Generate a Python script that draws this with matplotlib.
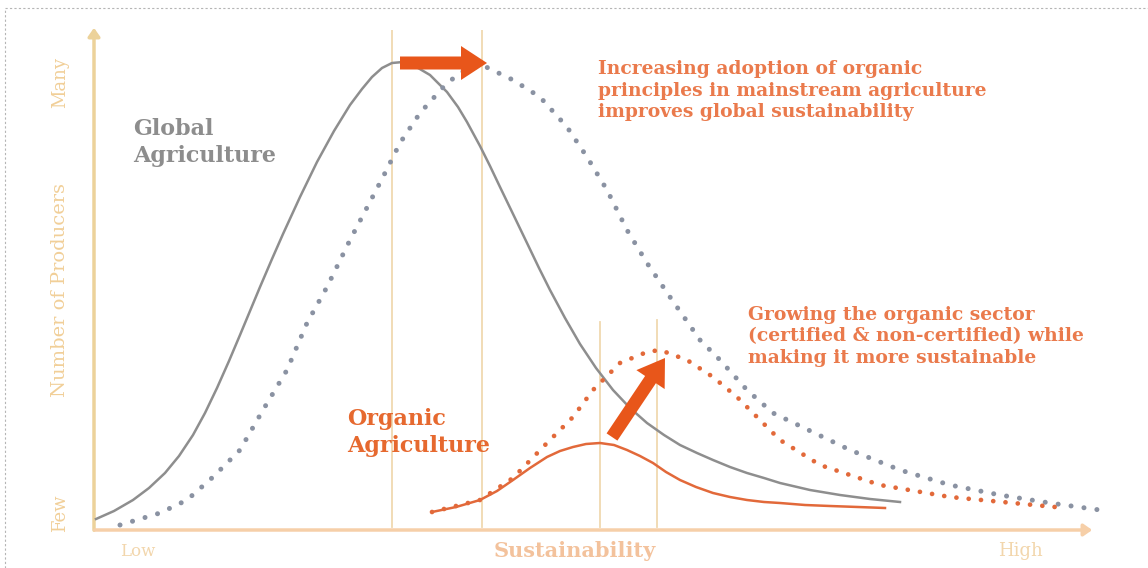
import matplotlib.pyplot as plt
from matplotlib.patches import FancyArrow

# Données (x : durabilité, y : nombre de producteurs)
global_x = [2, 20, 39, 55, 71, 85, 99, 111, 123, 135, 146, 156, 166, 178, 189, 206,
            223, 240, 256, 268, 278, 288, 298, 309, 319, 336, 353, 364, 373, 386,
            396, 406, 420, 433, 445, 456, 471, 486, 502, 519, 536, 553, 570, 586,
            603, 619, 636, 653, 670, 686, 716, 746, 776, 806]
global_y = [11, 19, 30, 42, 57, 74, 95, 117, 142, 169, 195, 219, 243, 271, 296, 333,
            368, 399, 425, 441, 453, 462, 467, 468, 465, 455, 438, 423, 408, 384,
            364, 343, 314, 287, 262, 240, 212, 186, 162, 140, 122, 107, 95, 85,
            77, 70, 63, 57, 52, 47, 40, 35, 31, 28]

global_new_x = [26, 66, 93, 119, 146, 169, 193, 213, 233, 256, 289, 306, 326, 353, 371,
                388, 419, 446, 473, 493, 513, 533, 553, 576, 606, 626, 653, 679, 756,
                806, 856, 906, 956, 1006]
global_new_y = [5, 17, 30, 53, 80, 120, 160, 207, 243, 290, 353, 387, 417, 447, 460,
                465, 450, 433, 403, 373, 340, 300, 267, 233, 190, 170, 140, 117, 80,
                60, 45, 35, 27, 20]

organic_x = [338, 362, 386, 403, 419, 436, 453, 466, 479, 492, 506, 520, 533, 546,
             559, 572, 586, 602, 619, 636, 653, 670, 686, 711, 736, 764, 791]
organic_y = [18, 23, 30, 39, 50, 62, 73, 79, 83, 86, 87, 85, 80, 74,
             67, 58, 50, 43, 37, 33, 30, 28, 27, 25, 24, 23, 22]

organic_new_x = [338, 386, 419, 453, 479, 499, 526, 553, 566, 593, 619, 643, 666, 686,
                 726, 786, 856, 961]
organic_new_y = [18, 30, 52, 87, 113, 140, 167, 178, 180, 170, 153, 133, 110, 90,
                 65, 45, 33, 23]

# pics des courbes (lignes verticales) : x, hauteur
peaks_x = [298, 388, 506, 563]
peaks_top = [503, 503, 208, 210]

orange = '#e8561a'
grey = '#8e8e8e'
grey_dot = '#8a92a2'
org_col = '#e2693a'
tan = '#f0d9b0'

fig = plt.figure(figsize=(11.48, 5.68), dpi=100)
ax = fig.add_axes([94 / 1148, 38 / 568, 999 / 1148, 500 / 568])
ax.set_xlim(0, 999)
ax.set_ylim(0, 500)
ax.axis('off')

# cadre pointillé
fig.add_artist(plt.Line2D([5 / 1148, 1], [1 - 8 / 568, 1 - 8 / 568], color='#b5b5b5',
                          lw=0.8, ls=(0, (2, 2)), transform=fig.transFigure))
fig.add_artist(plt.Line2D([5 / 1148, 5 / 1148], [0, 1 - 8 / 568], color='#b5b5b5',
                          lw=0.8, ls=(0, (2, 2)), transform=fig.transFigure))

# axes fléchés
ax.annotate('', xy=(0, 505), xytext=(0, -3),
            arrowprops=dict(arrowstyle='-|>,head_width=0.35,head_length=0.5',
                            color='#ecd29a', lw=2.5), annotation_clip=False)
ax.annotate('', xy=(1001, 0), xytext=(-2, 0),
            arrowprops=dict(arrowstyle='-|>,head_width=0.35,head_length=0.5',
                            color='#f6cfa8', lw=2.5), annotation_clip=False)

for px, top in zip(peaks_x, peaks_top):
    ax.plot([px, px], [3, top], color=tan, lw=1.3, zorder=1)

ax.plot(global_x, global_y, color=grey, lw=1.8, zorder=3, clip_on=False,
        solid_joinstyle='round')
ax.plot(global_new_x, global_new_y, color=grey_dot, lw=3.6, ls=(0, (0.01, 2.6)),
        dash_capstyle='round', zorder=3, clip_on=False)
ax.plot(organic_x, organic_y, color=org_col, lw=1.8, zorder=3, solid_joinstyle='round')
ax.plot(organic_new_x, organic_new_y, color=org_col, lw=3.4, ls=(0, (0.01, 2.6)),
        dash_capstyle='round', zorder=3)

# flèches de déplacement
ax.add_patch(FancyArrow(306, 467, 87, 0, width=13, head_width=34, head_length=26,
                        length_includes_head=True, color=orange, lw=0, zorder=5))
ax.add_patch(FancyArrow(518, 93, 53, 79, width=13, head_width=34, head_length=26,
                        length_includes_head=True, color=orange, lw=0, zorder=5))

# textes
serif = 'DejaVu Serif'
lab = '#f1cf98'
ax.text(-34, 448, 'Many', rotation=90, ha='center', va='center', color=lab,
        family=serif, fontsize=13)
ax.text(-34, 240, 'Number of Producers', rotation=90, ha='center', va='center',
        color=lab, family=serif, fontsize=14)
ax.text(-34, 17, 'Few', rotation=90, ha='center', va='center', color=lab,
        family=serif, fontsize=13)
ax.text(44, -21, 'Low', ha='center', va='center', color='#f2d6ac', family=serif,
        fontsize=12)
ax.text(926, -21, 'High', ha='center', va='center', color='#f2d6ac', family=serif,
        fontsize=13)
ax.text(481, -21, 'Sustainability', ha='center', va='center', color='#f3c29c',
        family=serif, fontsize=15, fontweight='bold')

ax.text(39, 412, 'Global\nAgriculture', ha='left', va='top', color='#8d8d8d',
        family=serif, fontsize=16, fontweight='bold', linespacing=1.3)
ax.text(253, 122, 'Organic\nAgriculture', ha='left', va='top', color='#e6692f',
        family=serif, fontsize=16, fontweight='bold', linespacing=1.3)

ax.text(504, 470, 'Increasing adoption of organic\nprinciples in mainstream agriculture\n'
        'improves global sustainability', ha='left', va='top', color='#ea7a4c',
        family=serif, fontsize=13.5, fontweight='bold', linespacing=1.25)
ax.text(654, 224, 'Growing the organic sector\n(certified & non-certified) while\n'
        'making it more sustainable', ha='left', va='top', color='#ea7a4c',
        family=serif, fontsize=13.5, fontweight='bold', linespacing=1.25)

fig.savefig('out.png', dpi=100)
